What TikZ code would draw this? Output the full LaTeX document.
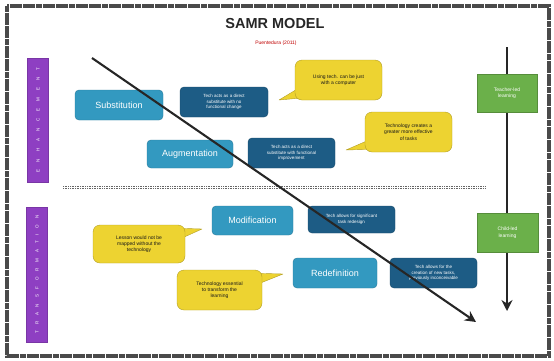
\documentclass[tikz,border=0pt]{standalone}
\usepackage{fontspec}
\setmainfont{Liberation Sans}
\usetikzlibrary{arrows.meta,calc}
\definecolor{teal1}{HTML}{3399C0}
\definecolor{navy1}{HTML}{1D5C85}
\definecolor{yel1}{HTML}{EDD331}
\definecolor{grn1}{HTML}{6BB04A}
\definecolor{pur1}{HTML}{8E3FC2}
\definecolor{frame1}{HTML}{4A4A4A}
\begin{document}
\begin{tikzpicture}[x=1pt,y=-1pt,
  phase/.style={rectangle, rounded corners=4pt, fill=teal1, draw=teal1!80!black, line width=0.4pt,
    text=white, font=\fontsize{9}{10}\selectfont, inner sep=0pt},
  desc/.style={rectangle, rounded corners=4pt, fill=navy1, draw=navy1!80!black, line width=0.4pt,
    text=white, font=\fontsize{4.5}{5.8}\selectfont, align=center, inner sep=0pt},
  bubble/.style={rectangle, rounded corners=7pt, fill=yel1, draw=yel1!75!black, line width=0.4pt,
    text=black!90, font=\fontsize{5}{6.3}\selectfont, align=center, inner sep=0pt},
  tail/.style={fill=yel1, draw=yel1!75!black, line width=0.4pt, line join=round},
  greenbox/.style={rectangle, fill=grn1, draw=grn1!80!black, line width=0.4pt,
    text=white, font=\fontsize{5}{6.5}\selectfont, align=center, inner sep=0pt},
  purplebar/.style={rectangle, fill=pur1, draw=pur1!85!black, line width=0.3pt, inner sep=0pt,
    minimum width=21pt},
  bartext/.style={rotate=90, text=white, font=\fontsize{4.5}{5}\selectfont, inner sep=0pt},
  mainarrow/.style={draw=black!85, line width=2.1pt, -{Stealth[length=11pt,width=11pt]}},
  sep/.style={draw=black!60, line width=0.9pt, dash pattern=on 1pt off 0.7pt}
]
\useasboundingbox (0,0) rectangle (554,360);
% frame
\draw[draw=frame1, line width=3.2pt, dash pattern=on 6pt off 0.6pt] (7,6) rectangle (549,356);
% title
\node[font=\bfseries\fontsize{14.5}{15}\selectfont, text=black!85] (title) at (275,24) {SAMR MODEL};
\node[font=\fontsize{5}{6}\selectfont, text=red!75!black] (subtitle) at (276,43) {Puentedura (2011)};
% purple bars
\node[purplebar, minimum height=124pt] (bar1) at (38,120) {};
\node[bartext] (bar1t) at (bar1.center) {\makebox[104pt][s]{E N H A N C E M E N T}};
\node[purplebar, minimum height=135pt] (bar2) at (37,274.5) {};
\node[bartext] (bar2t) at (bar2.center) {\makebox[118pt][s]{T R A N S F O R M A T I O N}};
% separator
\coordinate (sepL) at (63,186);
\coordinate (sepR) at (485,186);
\coordinate (sepL2) at (63,188.5);
\coordinate (sepR2) at (485,188.5);
\draw[sep] (sepL) -- (sepR);
\draw[sep] (sepL2) -- (sepR2);
% vertical arrow
\coordinate (vstart) at (507,47);
\coordinate (vend) at (507,311);
\draw[mainarrow] (vstart) -- (vend);
% green boxes
\node[greenbox, minimum width=60pt, minimum height=38pt] (g1) at (507,93) {Teacher-led\\learning};
\node[greenbox, minimum width=61pt, minimum height=39pt] (g2) at (507.5,232.5) {Child-led\\learning};
% phase boxes
\node[phase, minimum width=88pt, minimum height=30pt] (sub) at (119,105) {Substitution};
\node[phase, minimum width=86pt, minimum height=28pt] (aug) at (190,154) {Augmentation};
\node[phase, minimum width=81pt, minimum height=29pt] (mod) at (252.5,220.5) {Modification};
\node[phase, minimum width=84pt, minimum height=30pt] (red) at (335,273) {Redefinition};
% description boxes
\node[desc, minimum width=88pt, minimum height=30pt] (d1) at (224,102) {Tech acts as a direct\\substitute with no\\functional change};
\node[desc, minimum width=87pt, minimum height=30pt] (d2) at (291.5,153) {Tech acts as a direct\\substitute with functional\\improvement};
\node[desc, minimum width=87pt, minimum height=27pt] (d3) at (351.5,219.5) {Tech allows for significant\\task redesign};
\node[desc, minimum width=87pt, minimum height=30pt] (d4) at (433.5,273) {Tech allows for the\\creation of new tasks,\\previously inconceivable};
% bubbles with tails
\coordinate (tip1) at (279,100);
\coordinate (tip2) at (346,150);
\coordinate (tip3) at (202,229);
\coordinate (tip4) at (283,274);
\coordinate (b1a) at (299,88);
\coordinate (b1b) at (312,97);
\coordinate (b2a) at (369,140);
\coordinate (b2b) at (382,149);
\coordinate (b3a) at (170,228);
\coordinate (b3b) at (182,238);
\coordinate (b4a) at (246,273);
\coordinate (b4b) at (258,284);
\draw[tail] (b1a) -- (tip1) -- (b1b) -- cycle;
\draw[tail] (b2a) -- (tip2) -- (b2b) -- cycle;
\draw[tail] (b3a) -- (tip3) -- (b3b) -- cycle;
\draw[tail] (b4a) -- (tip4) -- (b4b) -- cycle;
\node[bubble, minimum width=87pt, minimum height=40pt] (y1) at (338.5,80) {Using tech. can be just\\with a computer};
\node[bubble, minimum width=87pt, minimum height=40pt] (y2) at (408.5,132) {Technology creates a\\greater more effective\\of tasks};
\node[bubble, minimum width=92pt, minimum height=38pt] (y3) at (139,244) {Lesson would not be\\mapped without the\\technology};
\node[bubble, minimum width=85pt, minimum height=40pt] (y4) at (219.5,290) {Technology essential\\to transform the\\learning};
% diagonal arrow on top
\coordinate (dstart) at (92,58);
\coordinate (dend) at (476,322);
\draw[mainarrow] (dstart) -- (dend);
\end{tikzpicture}
\end{document}
